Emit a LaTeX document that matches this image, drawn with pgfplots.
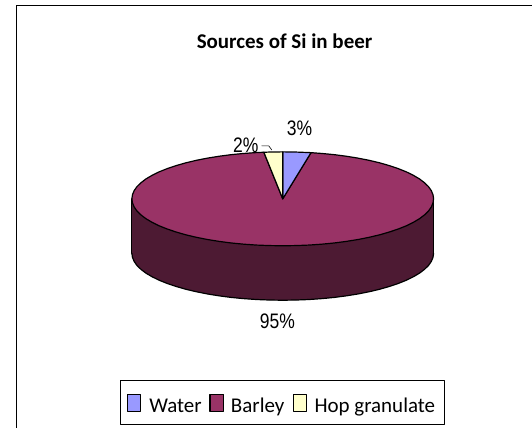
\documentclass[border=0pt]{standalone}
\usepackage{pgfplots}
\usepackage{pgfplotstable}
\usepackage{fontspec}
\pgfplotsset{compat=1.18}
\setmainfont{Liberation Sans}
\newfontfamily\calibri{Carlito}

\definecolor{water}{HTML}{9999FF}
\definecolor{barley}{HTML}{993366}
\definecolor{barleyside}{HTML}{4D1A33}
\definecolor{hop}{HTML}{FFFFCC}

% Front half of the disc rim, used for the lower edge of the wall
\pgfplotstableread{
x y
434.0 199.0
433.4 203.1
431.7 207.2
428.9 211.2
424.9 215.1
419.9 218.9
413.8 222.5
406.7 226.0
398.7 229.2
389.8 232.2
380.1 235.0
369.6 237.5
358.5 239.7
346.8 241.6
334.6 243.2
322.1 244.4
309.2 245.3
296.2 245.8
283.0 246.0
269.8 245.8
256.8 245.3
243.9 244.4
231.4 243.2
219.2 241.6
207.5 239.7
196.4 237.5
185.9 235.0
176.2 232.2
167.3 229.2
159.3 226.0
152.2 222.5
146.1 218.9
141.1 215.1
137.1 211.2
134.3 207.2
132.6 203.1
132.0 199.0
}\frontrim

% Barley, 95 %
\pgfplotstableread{
x y
283.0 199.0
311.3 152.8
322.1 153.6
334.6 154.8
346.8 156.4
358.5 158.3
369.6 160.5
380.1 163.0
389.8 165.8
398.7 168.8
406.7 172.0
413.8 175.5
419.9 179.1
424.9 182.9
428.9 186.8
431.7 190.8
433.4 194.9
434.0 199.0
433.4 203.1
431.7 207.2
428.9 211.2
424.9 215.1
419.9 218.9
413.8 222.5
406.7 226.0
398.7 229.2
389.8 232.2
380.1 235.0
369.6 237.5
358.5 239.7
346.8 241.6
334.6 243.2
322.1 244.4
309.2 245.3
296.2 245.8
283.0 246.0
269.8 245.8
256.8 245.3
243.9 244.4
231.4 243.2
219.2 241.6
207.5 239.7
196.4 237.5
185.9 235.0
176.2 232.2
167.3 229.2
159.3 226.0
152.2 222.5
146.1 218.9
141.1 215.1
137.1 211.2
134.3 207.2
132.6 203.1
132.0 199.0
132.6 194.9
134.3 190.8
137.1 186.8
141.1 182.9
146.1 179.1
152.2 175.5
159.3 172.0
167.3 168.8
176.2 165.8
185.9 163.0
196.4 160.5
207.5 158.3
219.2 156.4
231.4 154.8
243.9 153.6
256.8 152.7
264.1 152.4
}\barleyslice

\begin{document}
\begin{tikzpicture}
\begin{axis}[
  scale only axis, width=532pt, height=428pt,
  xmin=0, xmax=532, ymin=0, ymax=428,
  y dir=reverse, hide axis, clip=false,
  every axis plot/.append style={line join=round, line cap=round},
]
  % White page area, which also fixes the size of the picture
  \addplot[draw=none, fill=white] coordinates {(0,0) (532,0) (532,428) (0,428)} -- cycle;

  % Chart frame: left and top edges
  \addplot[black, line width=1pt, line cap=butt] coordinates {(17,428) (17,5.4) (532,5.4)};

  % Wall of the disc
  \addplot[draw=none, fill=barleyside] coordinates {(132,199) (434,199) (434,256) (132,256)} -- cycle;
  \addplot[draw=none, fill=barleyside] table[x=x, y expr=\thisrow{y}+54.5] {\frontrim} -- cycle;
  \addplot[black, line width=1.2pt] table[x=x, y expr=\thisrow{y}+54.5] {\frontrim};
  \addplot[black, line width=1.2pt] coordinates {(132,199) (132,253.5)};
  \addplot[black, line width=1.2pt] coordinates {(434,199) (434,253.5)};

  % Slices on top of the disc
  \addplot[draw=black, fill=barley, line width=1.2pt] table[x=x, y=y] {\barleyslice} -- cycle;
  \addplot[draw=black, fill=water, line width=1.2pt] coordinates {(283,199) (283,152) (296.2,152.2) (309.2,152.7) (311.3,152.8)} -- cycle;
  \addplot[draw=black, fill=hop, line width=1.2pt] coordinates {(283,199) (264.1,152.4) (269.8,152.2) (283,152)} -- cycle;

  % Leader from the small slice to its label
  \addplot[black, line width=0.6pt] coordinates {(262,146) (269,146) (272,150)};

  % Title and value labels
  \node[font=\calibri\bfseries\fontsize{21}{24}\selectfont, anchor=base, inner sep=0pt] at (axis cs:284.8,48.3) {Sources of Si in beer};
  \node[font=\fontsize{17.5}{20}\selectfont, yscale=1.2] at (axis cs:299.7,128) {3\%};
  \node[font=\fontsize{17.5}{20}\selectfont, yscale=1.2] at (axis cs:246,145) {2\%};
  \node[font=\fontsize{17.5}{20}\selectfont, yscale=1.2] at (axis cs:277.7,321.7) {95\%};

  % Legend box with its keys
  \addplot[draw=black, fill=white, line width=1pt] coordinates {(120.7,381) (445,381) (445,425) (120.7,425)} -- cycle;
  \addplot[draw=black, fill=water, line width=1.2pt] coordinates {(127.5,394.5) (141,394.5) (141,411.5) (127.5,411.5)} -- cycle;
  \addplot[draw=black, fill=barley, line width=1.2pt] coordinates {(210.2,394.5) (223.8,394.5) (223.8,411.5) (210.2,411.5)} -- cycle;
  \addplot[draw=black, fill=hop, line width=1.2pt] coordinates {(293.5,394.5) (307,394.5) (307,411.5) (293.5,411.5)} -- cycle;
  \node[font=\calibri\fontsize{21}{24}\selectfont, anchor=base west, inner sep=0pt] at (axis cs:149.3,413) {Water};
  \node[font=\calibri\fontsize{21}{24}\selectfont, anchor=base west, inner sep=0pt] at (axis cs:231,413) {Barley};
  \node[font=\calibri\fontsize{21}{24}\selectfont, anchor=base west, inner sep=0pt] at (axis cs:314.6,413) {Hop granulate};
\end{axis}
\end{tikzpicture}
\end{document}
